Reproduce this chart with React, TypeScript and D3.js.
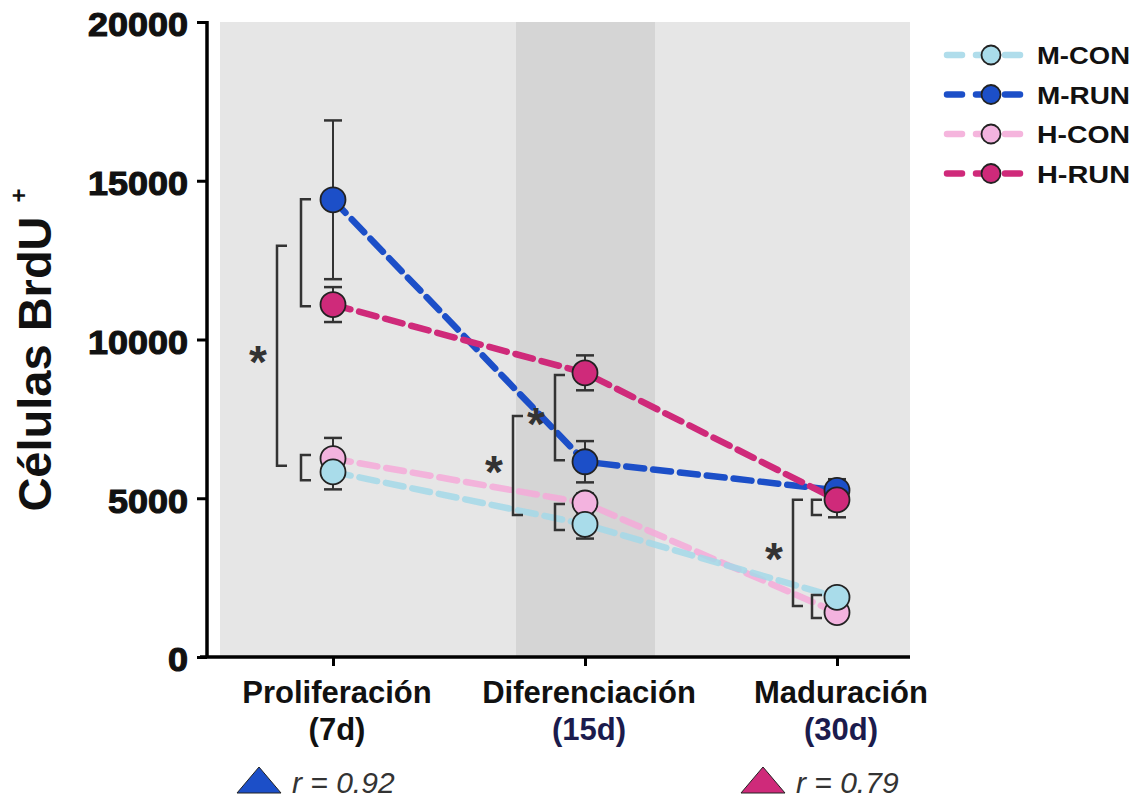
import React, { useEffect, useRef } from "react";
import * as d3 from "d3";

// stages on the x axis
const stages = ["Proliferación", "Diferenciación", "Maduración"];
const stageDays = ["(7d)", "(15d)", "(30d)"];

// group means and SEM, one value per stage
const mCon = [5830, 4180, 1880];
const mConErr = [550, 450, 200];
const mRun = [14400, 6150, 5250];
const mRunErr = [2500, 650, 350];
const hCon = [6250, 4850, 1400];
const hConErr = [650, 300, 200];
const hRun = [11100, 8950, 4950];
const hRunErr = [550, 550, 550];

const yTicks = [0, 5000, 10000, 15000, 20000];

// significance brackets: stage index, low/high values, offset from the stage
const brackets = [
  { stage: 0, lo: 6020, hi: 12950, dx: -56, star: true },
  { stage: 0, lo: 11050, hi: 14420, dx: -32, star: false },
  { stage: 0, lo: 5570, hi: 6360, dx: -32, star: false },
  { stage: 1, lo: 4470, hi: 7590, dx: -72, star: true },
  { stage: 1, lo: 6200, hi: 8880, dx: -30, star: true },
  { stage: 1, lo: 4000, hi: 4820, dx: -30, star: false },
  { stage: 2, lo: 1610, hi: 4950, dx: -44, star: true },
  { stage: 2, lo: 4470, hi: 4950, dx: -25, star: false },
  { stage: 2, lo: 1230, hi: 1950, dx: -25, star: false },
];

const correlations = [
  { stage: 0, color: "#1c4fc8", text: "r = 0.92" },
  { stage: 2, color: "#cf2a7a", text: "r = 0.79" },
];

const series = [
  { name: "H-CON", values: hCon, err: hConErr, line: "#f4a9d8", fill: "#f3b3df", opacity: 0.85 },
  { name: "M-CON", values: mCon, err: mConErr, line: "#a3d8e8", fill: "#a9dcea", opacity: 0.85 },
  { name: "M-RUN", values: mRun, err: mRunErr, line: "#1c4fc8", fill: "#1c4fc8", opacity: 1 },
  { name: "H-RUN", values: hRun, err: hRunErr, line: "#cf2a7a", fill: "#cf2a7a", opacity: 1 },
];
const legendOrder = ["M-CON", "M-RUN", "H-CON", "H-RUN"];

const App = () => {
  const svgRef = useRef(null);

  useEffect(() => {
    document.body.style.margin = "0";
    const width = 1137, height = 799;
    const svg = d3.select(svgRef.current);
    svg.selectAll("*").remove();
    svg.attr("width", width).attr("height", height).style("display", "block");

    const font = "'Liberation Sans', Arial, sans-serif";
    const x = d3.scalePoint().domain(stages).range([333, 837]);
    const y = d3.scaleLinear().domain([0, 20000]).range([657, 22]);
    const xi = (i) => x(stages[i]);

    // panel background with the darker middle band
    svg.append("rect").attr("x", 220).attr("y", y(20000)).attr("width", 690)
      .attr("height", y(0) - y(20000)).attr("fill", "#e6e6e6");
    svg.append("rect").attr("x", xi(1) - 69).attr("y", y(20000)).attr("width", 139)
      .attr("height", y(0) - y(20000)).attr("fill", "#d5d5d5");

    // y axis
    const yAxis = svg.append("g").attr("transform", "translate(207,0)")
      .call(d3.axisLeft(y).tickValues(yTicks).tickSize(10).tickPadding(9).tickFormat(d3.format("d")));
    yAxis.select(".domain").attr("stroke", "#000").attr("stroke-width", 3.5)
      .attr("d", `M0,${y(20000) - 1}V${y(0)}`);
    yAxis.selectAll(".tick line").attr("stroke", "#000").attr("stroke-width", 3);
    yAxis.selectAll(".tick text")
      .attr("font-family", font).attr("font-weight", 700).attr("font-size", 33)
      .attr("fill", "#111").attr("stroke", "#111").attr("stroke-width", 1.1).attr("dy", "0.42em")
      .attr("textLength", (d) => String(d).length * 20).attr("lengthAdjust", "spacingAndGlyphs");

    // x axis
    const xAxis = svg.append("g").attr("transform", `translate(0,${y(0)})`)
      .call(d3.axisBottom(x).tickSize(9).tickFormat(() => ""));
    xAxis.select(".domain").attr("stroke", "#000").attr("stroke-width", 3.5)
      .attr("d", `M200,0H910`);
    xAxis.selectAll(".tick line").attr("stroke", "#000").attr("stroke-width", 3);

    stages.forEach((s, i) => {
      svg.append("text").attr("x", xi(i) + 4).attr("y", 703).attr("text-anchor", "middle")
        .attr("font-family", font).attr("font-weight", 700).attr("font-size", 31)
        .attr("fill", "#111").text(s);
      svg.append("text").attr("x", xi(i) + 4).attr("y", 740).attr("text-anchor", "middle")
        .attr("font-family", font).attr("font-weight", 700).attr("font-size", 31)
        .attr("fill", i === 0 ? "#111" : "#1b1b4d").text(stageDays[i]);
    });

    // y axis title
    const yt = svg.append("text")
      .attr("transform", "translate(51,350) rotate(-90)")
      .attr("text-anchor", "middle").attr("font-family", font).attr("font-weight", 700)
      .attr("font-size", 47).attr("fill", "#111");
    yt.append("tspan").text("Células BrdU");
    yt.append("tspan").attr("dy", -24).attr("dx", 14).attr("font-size", 24).text("+");

    // connecting lines
    const line = d3.line().x((d, i) => xi(i)).y((d) => y(d));
    series.forEach((s) => {
      svg.append("path").attr("d", line(s.values)).attr("fill", "none")
        .attr("stroke", s.line).attr("stroke-width", 6.5).attr("stroke-dasharray", "18 9")
        .attr("stroke-linecap", "round").attr("opacity", s.opacity);
    });

    // error bars and points
    series.forEach((s) => {
      const g = svg.append("g");
      s.values.forEach((v, i) => {
        const cx = xi(i);
        const top = y(v + s.err[i]), bot = y(v - s.err[i]);
        g.append("line").attr("x1", cx).attr("x2", cx).attr("y1", top).attr("y2", bot)
          .attr("stroke", "#333").attr("stroke-width", 2);
        [top, bot].forEach((yy) => g.append("line").attr("x1", cx - 9).attr("x2", cx + 9)
          .attr("y1", yy).attr("y2", yy).attr("stroke", "#333").attr("stroke-width", 2.5));
      });
    });
    series.forEach((s) => {
      s.values.forEach((v, i) => {
        svg.append("circle").attr("cx", xi(i)).attr("cy", y(v)).attr("r", 12.5)
          .attr("fill", s.fill).attr("stroke", "#222").attr("stroke-width", 1.8);
      });
    });

    // significance brackets
    brackets.forEach((b) => {
      const bx = xi(b.stage) + b.dx;
      svg.append("path")
        .attr("d", `M${bx + 10},${y(b.hi)}H${bx}V${y(b.lo)}H${bx + 10}`)
        .attr("fill", "none").attr("stroke", "#333").attr("stroke-width", 2.5);
      if (b.star) {
        svg.append("text").attr("x", bx - 19).attr("y", (y(b.hi) + y(b.lo)) / 2 + 22)
          .attr("text-anchor", "middle").attr("font-family", font).attr("font-weight", 700)
          .attr("font-size", 46).attr("fill", "#333").text("*");
      }
    });

    // legend
    legendOrder.forEach((name, k) => {
      const s = series.find((d) => d.name === name);
      const ly = 55 + k * 39.5;
      svg.append("line").attr("x1", 947).attr("x2", 1027).attr("y1", ly).attr("y2", ly)
        .attr("stroke", s.line).attr("stroke-width", 6.5).attr("stroke-dasharray", "15 14")
        .attr("stroke-linecap", "round").attr("opacity", s.opacity);
      svg.append("circle").attr("cx", 991).attr("cy", ly).attr("r", 9.5)
        .attr("fill", s.fill).attr("stroke", "#222").attr("stroke-width", 1.8);
      svg.append("text").attr("x", 1037).attr("y", ly + 9).attr("font-family", font)
        .attr("font-weight", 700).attr("font-size", 24).attr("fill", "#111")
        .attr("textLength", 93).attr("lengthAdjust", "spacingAndGlyphs").text(name);
    });

    // correlation notes
    correlations.forEach((c) => {
      const tx = xi(c.stage) - 96;
      svg.append("path").attr("d", `M${tx},793L${tx + 22},767L${tx + 44},793Z`)
        .attr("fill", c.color).attr("stroke", "#222").attr("stroke-width", 1);
      svg.append("text").attr("x", tx + 55).attr("y", 793).attr("font-family", font)
        .attr("font-style", "italic").attr("font-size", 30).attr("fill", "#333").text(c.text);
    });
  }, []);

  return <svg ref={svgRef}></svg>;
};

export default App;
